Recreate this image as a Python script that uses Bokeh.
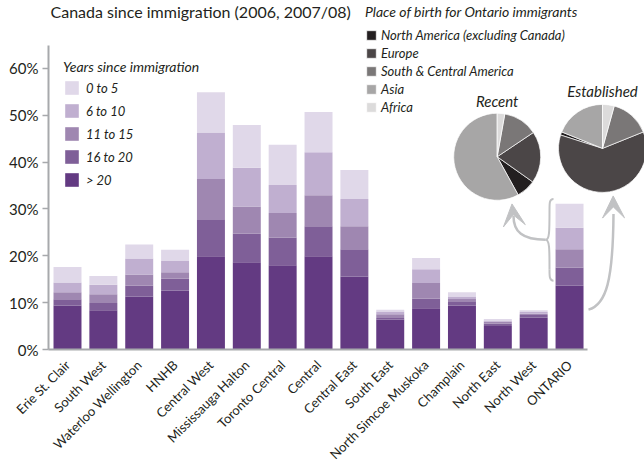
import math
from bokeh.plotting import figure
from bokeh.models import (Range1d, FixedTicker, PrintfTickFormatter, ColumnDataSource,
                          Legend, LegendItem, Arrow, VeeHead, Label)
from bokeh.core.properties import value
from bokeh.embed import file_html
from bokeh.resources import INLINE

# ---------------- data ----------------
regions = ["Erie St. Clair", "South West", "Waterloo Wellington", "HNHB", "Central West",
           "Mississauga Halton", "Toronto Central", "Central", "Central East", "South East",
           "North Simcoe Muskoka", "Champlain", "North East", "North West", "ONTARIO"]
years_gt20 = [9.4, 8.4, 11.3, 12.6, 19.9, 18.6, 18.0, 19.9, 15.6, 6.4, 8.8, 9.4, 5.0, 6.8, 13.6]
years_16_20 = [1.3, 1.5, 2.3, 2.5, 7.9, 6.1, 5.9, 6.4, 5.8, 0.3, 2.1, 0.9, 0.5, 0.55, 3.9]
years_11_15 = [1.5, 1.9, 2.4, 1.4, 8.6, 5.8, 5.2, 6.6, 4.9, 0.8, 3.3, 0.5, 0.4, 0.3, 3.9]
years_6_10 = [2.1, 2.0, 3.4, 2.4, 9.9, 8.3, 6.0, 9.2, 5.8, 0.6, 2.9, 0.5, 0.3, 0.35, 4.6]
years_0_5 = [3.3, 1.9, 3.0, 2.4, 8.6, 9.1, 8.6, 8.6, 6.2, 0.4, 2.4, 0.9, 0.3, 0.35, 5.1]
year_labels = ["> 20", "16 to 20", "11 to 15", "6 to 10", "0 to 5"]
y_ticks = [0, 10, 20, 30, 40, 50, 60]

birth_places = ["North America (excluding Canada)", "Europe", "South & Central America", "Asia", "Africa"]
recent_share = [7.2, 19.2, 12.8, 58.0, 2.8]
established_share = [1.2, 61.0, 14.6, 18.9, 4.3]
pie_clockwise_order = ["Africa", "South & Central America", "Europe",
                       "North America (excluding Canada)", "Asia"]
pie_names = ["Recent", "Established"]

title_text = "Canada since immigration (2006, 2007/08)"

# ---------------- style / layout ----------------
FONT = "Lato"
TXT = "#231f20"
GREY = "#a7a9ac"
ARROW = "#c1c2c4"
year_colors = ["#633a82", "#7f5f98", "#9f87b1", "#c0afd0", "#e0d8e9"]
place_colors = ["#231f20", "#4b4647", "#7a7777", "#a7a6a6", "#dcdbdb"]

W, H = 644, 470
LEFT, BOTTOM = 48, 120
STEP = 35.86          # px per category
X0_PAGE = 67.0        # x of first bar centre
Y0_PAGE = 350.0       # y of 0 %
K = 4.7               # px per percent


def dx(px):
    return (px - X0_PAGE) / STEP


def dy(py):
    return (Y0_PAGE - py) / K


p = figure(width=W, height=H, output_backend="svg", toolbar_location=None,
           x_range=Range1d(dx(LEFT), dx(W)), y_range=Range1d(0, dy(0)),
           min_border_left=LEFT, min_border_right=0, min_border_top=0,
           min_border_bottom=BOTTOM, outline_line_color=None)
p.xgrid.visible = False
p.ygrid.visible = False

# ---------------- stacked bars ----------------
stackers = ["gt20", "y16_20", "y11_15", "y6_10", "y0_5"]
src = ColumnDataSource(dict(x=list(range(len(regions))), gt20=years_gt20, y16_20=years_16_20,
                            y11_15=years_11_15, y6_10=years_6_10, y0_5=years_0_5))
bar_renderers = p.vbar_stack(stackers, x="x", width=0.78, source=src,
                             fill_color=year_colors, line_color=None)

# ---------------- axes ----------------
p.yaxis.ticker = FixedTicker(ticks=y_ticks)
p.yaxis.formatter = PrintfTickFormatter(format="%d%%")
p.yaxis.minor_tick_line_color = None
p.yaxis.axis_line_color = GREY
p.yaxis.axis_line_width = 2
p.yaxis.major_tick_line_color = GREY
p.yaxis.major_tick_line_width = 1.5
p.yaxis.major_tick_out = 6
p.yaxis.major_tick_in = 0
p.yaxis.major_label_standoff = 4
p.yaxis.major_label_text_font = FONT
p.yaxis.major_label_text_font_size = "15px"
p.yaxis.major_label_text_color = TXT
p.yaxis.bounds = (0, dy(45))

p.xaxis.ticker = FixedTicker(ticks=list(range(len(regions))))
p.xaxis.major_label_overrides = {i: r for i, r in enumerate(regions)}
p.xaxis.major_label_orientation = math.pi / 4
p.xaxis.major_tick_line_color = None
p.xaxis.minor_tick_line_color = None
p.xaxis.axis_line_color = GREY
p.xaxis.axis_line_width = 2
p.xaxis.major_label_standoff = 7
p.xaxis.major_label_text_font = FONT
p.xaxis.major_label_text_font_size = "13px"
p.xaxis.major_label_text_color = TXT
p.xaxis.bounds = (dx(LEFT), dx(587))

# ---------------- years legend ----------------
leg1 = Legend(items=[LegendItem(label=lab, renderers=[r])
                     for lab, r in reversed(list(zip(year_labels, bar_renderers)))],
              location=(15, 161), title="Years since immigration",
              title_text_font=FONT, title_text_font_style="italic", title_text_font_size="14px",
              title_text_color=TXT, title_standoff=4,
              label_text_font=FONT, label_text_font_style="italic", label_text_font_size="13px",
              label_text_color=TXT, glyph_width=17, glyph_height=17, label_height=17,
              label_standoff=6, spacing=6, padding=0, margin=0,
              background_fill_alpha=0, border_line_alpha=0)
p.add_layout(leg1)

# ---------------- pies ----------------
pie_cx = [dx(496.7), dx(602.0)]
pie_cy = [dy(156.7), dy(148.3)]
pie_r = [43.5, 44.0]
shares = {"Recent": dict(zip(birth_places, recent_share)),
          "Established": dict(zip(birth_places, established_share))}
angles = {}
for name in pie_names:
    tot = sum(shares[name].values())
    cum = 0.0
    for place in pie_clockwise_order:
        a0 = math.pi / 2 - 2 * math.pi * cum / tot
        cum += shares[name][place]
        a1 = math.pi / 2 - 2 * math.pi * cum / tot
        angles[(name, place)] = (a0, a1)

wedge_renderers = []
for place, col in zip(birth_places, place_colors):
    s = ColumnDataSource(dict(x=pie_cx, y=pie_cy, r=pie_r,
                              start=[angles[(n, place)][0] for n in pie_names],
                              end=[angles[(n, place)][1] for n in pie_names]))
    wr = p.wedge(x="x", y="y", radius="r", radius_units="screen", start_angle="start",
                 end_angle="end", direction="clock", source=s, fill_color=col,
                 line_color="white", line_width=0.7)
    wedge_renderers.append(wr)

leg2 = Legend(items=[LegendItem(label=pl, renderers=[r]) for pl, r in zip(birth_places, wedge_renderers)],
              location=(317, 234), title="Place of birth for Ontario immigrants",
              title_text_font=FONT, title_text_font_style="italic", title_text_font_size="14px",
              title_text_color=TXT, title_standoff=7,
              label_text_font=FONT, label_text_font_style="italic", label_text_font_size="13px",
              label_text_color=TXT, glyph_width=12, glyph_height=12, label_height=15,
              label_standoff=4, spacing=2, padding=0, margin=0,
              background_fill_alpha=0, border_line_alpha=0)
p.add_layout(leg2)

# pie captions
p.text(x=pie_cx, y=[dy(101), dy(91)], text=pie_names, text_align="center",
       text_baseline="middle", text_font=value(FONT), text_font_style="italic",
       text_font_size="15px", text_color=TXT)

# ---------------- bracket and arrows ----------------
br = dict(x0=[553, 549, 545, 549], y0=[199, 210, 240, 270],
          x1=[549, 545, 549, 553], y1=[210, 240, 270, 281],
          cx0=[549, 549, 549, 549], cy0=[199, 232, 240, 277],
          cx1=[549, 549, 549, 549], cy1=[203, 240, 248, 281])
p.bezier(x0=[dx(v) for v in br["x0"]], y0=[dy(v) for v in br["y0"]],
         x1=[dx(v) for v in br["x1"]], y1=[dy(v) for v in br["y1"]],
         cx0=[dx(v) for v in br["cx0"]], cy0=[dy(v) for v in br["cy0"]],
         cx1=[dx(v) for v in br["cx1"]], cy1=[dy(v) for v in br["cy1"]],
         line_color=ARROW, line_width=2)
# curved arrows
p.bezier(x0=[dx(545), dx(588)], y0=[dy(240), dy(310)],
         x1=[dx(513), dx(613)], y1=[dy(216), dy(214)],
         cx0=[dx(522), dx(606)], cy0=[dy(240), dy(305)],
         cx1=[dx(513), dx(612.5)], cy1=[dy(232), dy(280)],
         line_color=ARROW, line_width=2.5)
for (xs, ys, xe, ye) in [(513, 218, 511.5, 204), (613, 218, 612.7, 196)]:
    p.add_layout(Arrow(end=VeeHead(size=22, fill_color=ARROW, line_color=ARROW),
                       x_start=dx(xs), y_start=dy(ys), x_end=dx(xe), y_end=dy(ye),
                       line_alpha=0))

# ---------------- title line ----------------
p.add_layout(Label(x=2, y=H - BOTTOM - 2, x_units="screen", y_units="screen",
                   text=title_text, text_baseline="top",
                   text_font=FONT, text_font_size="16px", text_color=TXT))

open("out.html", "w").write(file_html(p, INLINE))
